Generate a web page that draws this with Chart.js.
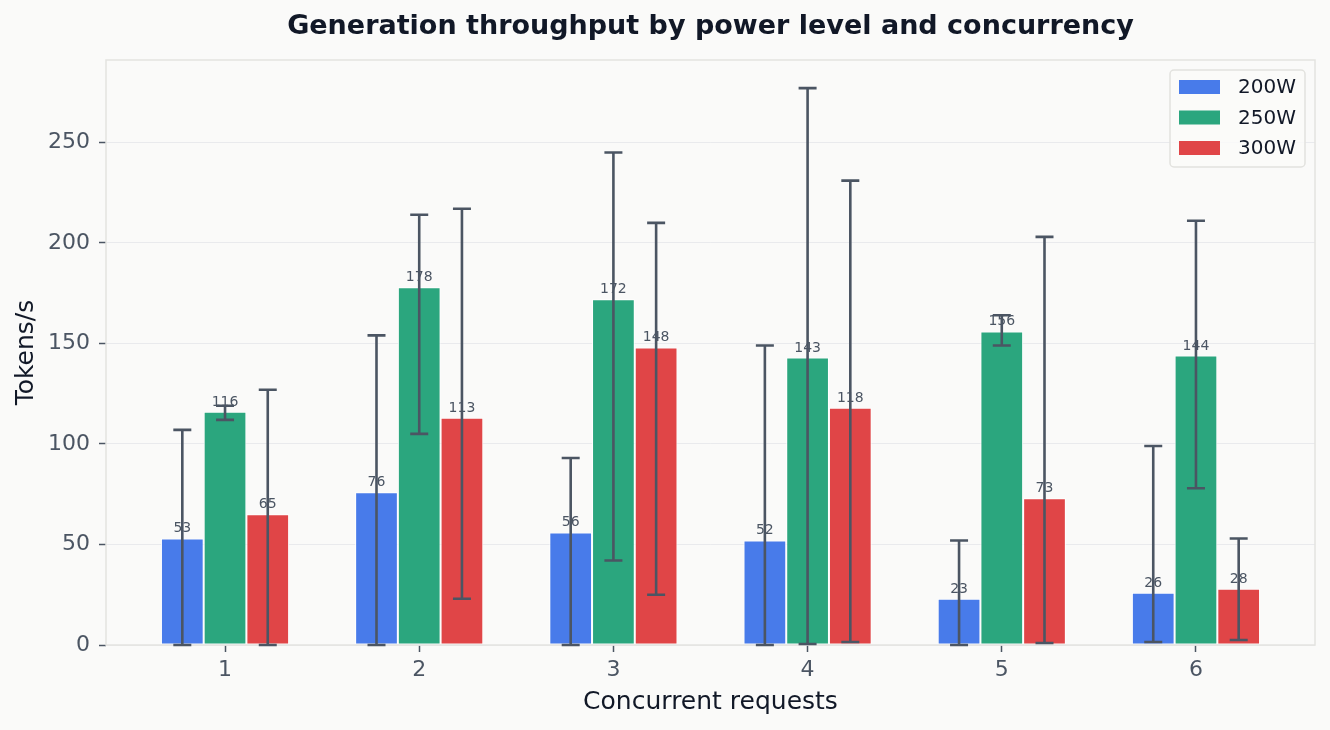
<!DOCTYPE html>
<html>
<head>
<meta charset="utf-8">
<script src="https://cdn.jsdelivr.net/npm/chart.js@4.4.0/dist/chart.umd.min.js"></script>
<style>
  html, body { margin: 0; padding: 0; background: #fafaf9; }
  #wrap { width: 1330px; height: 730px; }
</style>
</head>
<body>
<div id="wrap"><canvas id="myChart" width="1330" height="730"></canvas></div>
<script>
// data
const categories = [1, 2, 3, 4, 5, 6];
const seriesNames = ["200W", "250W", "300W"];
const values200 = [53, 76, 56, 52, 23, 26];
const values250 = [116, 178, 172, 143, 156, 144];
const values300 = [65, 113, 148, 118, 73, 28];
// error bar ends (low / high)
const low200 = [0, 0, 0, 0, 0, 1.5];
const high200 = [107, 154, 93, 149, 52, 99];
const low250 = [112, 105, 42, 0.5, 149, 78];
const high250 = [119, 214, 245, 277, 164, 211];
const low300 = [0, 23, 25, 1.5, 1, 2.5];
const high300 = [127, 217, 210, 231, 203, 53];
const yTicks = [0, 50, 100, 150, 200, 250];

const colors = ["#487bea", "#2ba67e", "#e04547"];
const inkSoft = "#4b5563";
const inkDark = "#111827";
const font = "'DejaVu Sans', sans-serif";

function toPoints(vals) {
    return categories.map((c, i) => ({x: c, y: vals[i]}));
}

const allValues = [values200, values250, values300];
const allLow = [low200, low250, low300];
const allHigh = [high200, high250, high300];

const bgPlugin = {
    id: "bg",
    beforeDraw(chart) {
        const ctx = chart.ctx;
        ctx.save();
        ctx.fillStyle = "#fafaf9";
        ctx.fillRect(0, 0, chart.width, chart.height);
        ctx.restore();
    }
};

const overlayPlugin = {
    id: "overlay",
    afterDraw(chart) {
        const ctx = chart.ctx;
        const a = chart.chartArea;
        const y = chart.scales.y;
        ctx.save();

        // plot frame
        ctx.strokeStyle = "#e3e3e0";
        ctx.lineWidth = 1.5;
        ctx.strokeRect(a.left, a.top, a.right - a.left, a.bottom - a.top);

        // value labels
        ctx.fillStyle = inkSoft;
        ctx.font = "14px " + font;
        ctx.textAlign = "center";
        ctx.textBaseline = "alphabetic";
        chart.data.datasets.forEach((ds, i) => {
            chart.getDatasetMeta(i).data.forEach((bar, j) => {
                ctx.fillText(String(allValues[i][j]), bar.x, bar.y - 6);
            });
        });

        // error bars
        ctx.strokeStyle = inkSoft;
        ctx.lineWidth = 2.6;
        chart.data.datasets.forEach((ds, i) => {
            chart.getDatasetMeta(i).data.forEach((bar, j) => {
                const lo = y.getPixelForValue(allLow[i][j]);
                const hi = y.getPixelForValue(allHigh[i][j]);
                ctx.beginPath();
                ctx.moveTo(bar.x, lo);
                ctx.lineTo(bar.x, hi);
                ctx.moveTo(bar.x - 9, lo);
                ctx.lineTo(bar.x + 9, lo);
                ctx.moveTo(bar.x - 9, hi);
                ctx.lineTo(bar.x + 9, hi);
                ctx.stroke();
            });
        });

        // legend box, upper right
        const bx = a.right - 145, by = a.top + 10, bw = 135, bh = 97;
        ctx.fillStyle = "rgba(250,250,249,0.85)";
        ctx.strokeStyle = "#e2e2de";
        ctx.lineWidth = 1.5;
        ctx.beginPath();
        ctx.roundRect(bx, by, bw, bh, 4);
        ctx.fill();
        ctx.stroke();
        ctx.font = "20px " + font;
        ctx.textAlign = "left";
        ctx.textBaseline = "middle";
        chart.data.datasets.forEach((ds, i) => {
            const cy = by + 17 + i * 30.5;
            ctx.fillStyle = ds.backgroundColor;
            ctx.fillRect(bx + 9, cy - 7, 41, 14);
            ctx.fillStyle = inkDark;
            ctx.fillText(ds.label, bx + 68, cy + 1);
        });

        ctx.restore();
    }
};

let myChart = new Chart("myChart", {
    type: "bar",
    data: {
        datasets: seriesNames.map((name, i) => ({
            label: name,
            data: toPoints(allValues[i]),
            backgroundColor: colors[i],
            borderColor: "#ffffff",
            borderWidth: 1,
            borderSkipped: false,
            categoryPercentage: 0.66,
            barPercentage: 1.0
        }))
    },
    options: {
        responsive: false,
        animation: false,
        layout: { padding: { left: 0, right: 15, top: 0, bottom: 0 } },
        plugins: {
            legend: { display: false },
            tooltip: { enabled: false },
            title: {
                display: true,
                text: "Generation throughput by power level and concurrency",
                fullSize: false,
                color: inkDark,
                font: { family: font, size: 27, weight: "bold", lineHeight: 1.2 },
                padding: { top: 11, bottom: 16.6 }
            }
        },
        scales: {
            x: {
                type: "linear",
                offset: false,
                min: 0.387,
                max: 6.613,
                afterBuildTicks: s => { s.ticks = categories.map(v => ({ value: v })); },
                afterFit: s => { s.height = 85; },
                grid: { offset: false, drawOnChartArea: false, drawTicks: true, tickLength: 7, tickColor: inkSoft, tickWidth: 1.5 },
                border: { display: false },
                ticks: { color: inkSoft, padding: 5, font: { family: font, size: 22 }, callback: v => String(v) },
                title: {
                    display: true,
                    text: "Concurrent requests",
                    color: inkDark,
                    font: { family: font, size: 25 },
                    padding: { top: 0, bottom: 13 }
                }
            },
            y: {
                min: 0,
                max: 291,
                z: 1,
                afterBuildTicks: s => { s.ticks = yTicks.map(v => ({ value: v })); },
                afterFit: s => { s.width = 106; },
                grid: { color: "rgba(222,224,228,0.6)", lineWidth: 1, tickLength: 7, tickColor: inkSoft, tickWidth: 1.5 },
                border: { display: false },
                ticks: { color: inkSoft, padding: 9, font: { family: font, size: 22 } },
                title: {
                    display: true,
                    text: "Tokens/s",
                    color: inkDark,
                    font: { family: font, size: 25 },
                    padding: { top: 11, bottom: 0 }
                }
            }
        }
    },
    plugins: [bgPlugin, overlayPlugin]
});
</script>
</body>
</html>
